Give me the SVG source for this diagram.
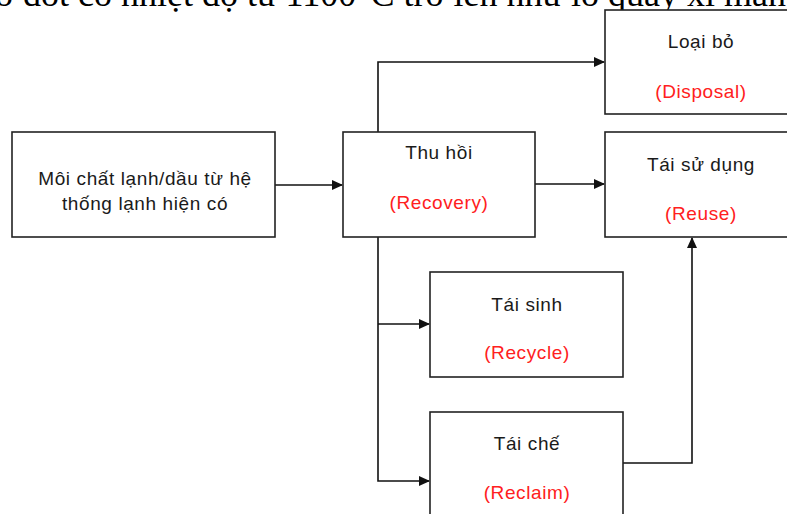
<svg xmlns="http://www.w3.org/2000/svg" width="787" height="514" viewBox="0 0 787 514">
<style>
.box{fill:#fff;stroke:#222;stroke-width:1.6}
.t{font-family:"Liberation Sans",Arial,sans-serif;font-size:19px;fill:#1a1a1a;text-anchor:middle;letter-spacing:0.6px}
.r{fill:#ff2020}
.c{fill:none;stroke:#111;stroke-width:1.6}
.top{font-family:"Liberation Serif","Times New Roman",serif;font-size:36px;fill:#000}
</style>
<defs>
<marker id="ah" markerWidth="11" markerHeight="10" refX="10" refY="5" orient="auto" markerUnits="userSpaceOnUse">
<path d="M0,0 L11,5 L0,10 Z" fill="#111"/>
</marker>
</defs>
<rect width="787" height="514" fill="#fff"/>
<text class="top" x="-5" y="6">ở đốt có nhiệt độ từ 1100°C trở lên như lò quay xi măng</text>
<g id="connectors">
<path class="c" d="M275,185 H342" marker-end="url(#ah)"/>
<path class="c" d="M535,184 H604" marker-end="url(#ah)"/>
<path class="c" d="M378,132 V62 H604" marker-end="url(#ah)"/>
<path class="c" d="M378,237 V481 H429" marker-end="url(#ah)"/>
<path class="c" d="M378,324 H429" marker-end="url(#ah)"/>
<path class="c" d="M623,463 H692 V238" marker-end="url(#ah)"/>
</g>
<g id="source">
<rect class="box" x="12" y="132" width="263" height="105"/>
<text class="t" x="145" y="185">Môi chất lạnh/dầu từ hệ</text>
<text class="t" x="145" y="210">thống lạnh hiện có</text>
</g>
<g id="recovery">
<rect class="box" x="343" y="132" width="192" height="105"/>
<text class="t" x="439" y="159">Thu hồi</text>
<text class="t r" x="439" y="209">(Recovery)</text>
</g>
<g id="disposal">
<rect class="box" x="605" y="10" width="192" height="104"/>
<text class="t" x="701" y="48">Loại bỏ</text>
<text class="t r" x="701" y="98">(Disposal)</text>
</g>
<g id="reuse">
<rect class="box" x="605" y="132" width="192" height="105"/>
<text class="t" x="701" y="171">Tái sử dụng</text>
<text class="t r" x="701" y="220">(Reuse)</text>
</g>
<g id="recycle">
<rect class="box" x="430" y="272" width="193" height="105"/>
<text class="t" x="527" y="311">Tái sinh</text>
<text class="t r" x="527" y="359">(Recycle)</text>
</g>
<g id="reclaim">
<rect class="box" x="430" y="412" width="193" height="105"/>
<text class="t" x="527" y="450">Tái chế</text>
<text class="t r" x="527" y="499">(Reclaim)</text>
</g>
</svg>
